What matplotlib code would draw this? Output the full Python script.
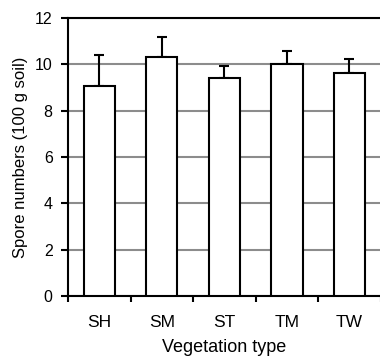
import numpy as np
import matplotlib.pyplot as plt

plt.rcParams['font.family'] = ['Liberation Sans', 'DejaVu Sans']

categories = ["SH", "SM", "ST", "TM", "TW"]
means = [9.05, 10.34, 9.42, 10.0, 9.62]
upper_err = [1.36, 0.84, 0.52, 0.60, 0.60]

fig = plt.figure(figsize=(3.8, 3.57), dpi=100)
ax = fig.add_axes([0.179, 0.171, 0.823, 0.778])

x = np.arange(len(categories))
ax.bar(x, means, width=0.5, color="white", edgecolor="black", linewidth=1.5, zorder=3)
ax.errorbar(x, means, yerr=[np.zeros(len(means)), upper_err], fmt="none",
            ecolor="black", elinewidth=1.5, capsize=3.5, capthick=1.5, zorder=2)

ax.set_xlim(-0.5, len(categories) - 0.5)
ax.set_ylim(0, 12)
ax.set_yticks(range(0, 13, 2))
ax.yaxis.grid(True, color="#8c8c8c", linewidth=1.5, zorder=0)
ax.set_axisbelow(True)

ax.set_xticks(x)
ax.set_xticklabels(categories, fontsize=12.5)
ax.tick_params(axis="x", which="major", length=0, pad=14)
ax.set_xticks(np.arange(-0.5, len(categories), 1), minor=True)
ax.tick_params(axis="x", which="minor", length=4, width=1.5, direction="out")
ax.tick_params(axis="y", length=5, width=1.5, direction="out", labelsize=11.5, pad=6)

for s in ["left", "bottom", "top"]:
    ax.spines[s].set_linewidth(1.5)
ax.spines["right"].set_visible(False)

ax.set_xlabel("Vegetation type", fontsize=13, labelpad=6)
ax.set_ylabel("Spore numbers (100 g soil)", fontsize=12, labelpad=5)

fig.savefig("out.png", dpi=100)
